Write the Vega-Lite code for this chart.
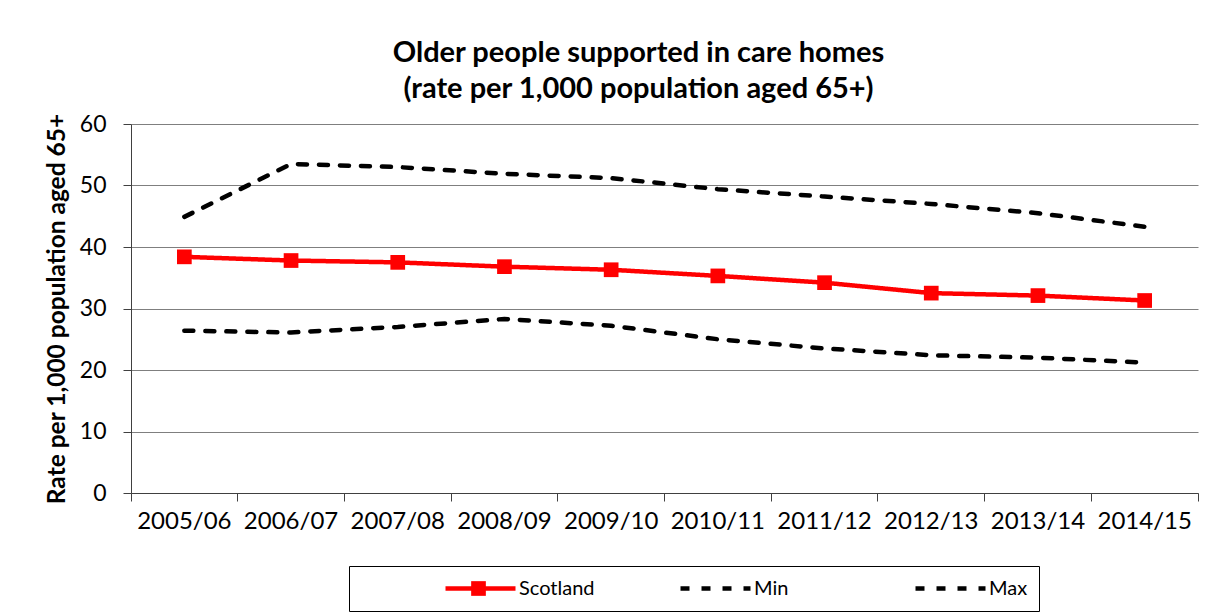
{
  "$schema": "https://vega.github.io/schema/vega-lite/v6.json",
  "width": 1067,
  "height": 369,
  "autosize": {"type": "none"},
  "padding": {"left": 131, "top": 124, "right": 31, "bottom": 121},
  "background": "white",
  "config": {"view": {"stroke": null}},
  "title": {
    "text": ["Older people supported in care homes", "(rate per 1,000 population aged 65+)"],
    "font": "Lato",
    "fontSize": 29,
    "fontWeight": "bold",
    "color": "#000000",
    "anchor": "middle",
    "dx": -26,
    "lineHeight": 36,
    "offset": 9
  },
  "data": {
    "values": [
      {"period": "2005/06", "series": "Scotland", "value": 38.4},
      {"period": "2006/07", "series": "Scotland", "value": 37.8},
      {"period": "2007/08", "series": "Scotland", "value": 37.5},
      {"period": "2008/09", "series": "Scotland", "value": 36.8},
      {"period": "2009/10", "series": "Scotland", "value": 36.3},
      {"period": "2010/11", "series": "Scotland", "value": 35.3},
      {"period": "2011/12", "series": "Scotland", "value": 34.2},
      {"period": "2012/13", "series": "Scotland", "value": 32.5},
      {"period": "2013/14", "series": "Scotland", "value": 32.1},
      {"period": "2014/15", "series": "Scotland", "value": 31.3},
      {"period": "2005/06", "series": "Min", "value": 26.4},
      {"period": "2006/07", "series": "Min", "value": 26.1},
      {"period": "2007/08", "series": "Min", "value": 27.0},
      {"period": "2008/09", "series": "Min", "value": 28.3},
      {"period": "2009/10", "series": "Min", "value": 27.2},
      {"period": "2010/11", "series": "Min", "value": 25.0},
      {"period": "2011/12", "series": "Min", "value": 23.5},
      {"period": "2012/13", "series": "Min", "value": 22.4},
      {"period": "2013/14", "series": "Min", "value": 22.0},
      {"period": "2014/15", "series": "Min", "value": 21.2},
      {"period": "2005/06", "series": "Max", "value": 44.9},
      {"period": "2006/07", "series": "Max", "value": 53.5},
      {"period": "2007/08", "series": "Max", "value": 53.0},
      {"period": "2008/09", "series": "Max", "value": 51.9},
      {"period": "2009/10", "series": "Max", "value": 51.2},
      {"period": "2010/11", "series": "Max", "value": 49.4},
      {"period": "2011/12", "series": "Max", "value": 48.2},
      {"period": "2012/13", "series": "Max", "value": 47.0},
      {"period": "2013/14", "series": "Max", "value": 45.5},
      {"period": "2014/15", "series": "Max", "value": 43.3}
    ]
  },
  "encoding": {
    "x": {
      "field": "period",
      "type": "ordinal",
      "sort": null,
      "scale": {"type": "band", "paddingInner": 0, "paddingOuter": 0},
      "axis": {
        "title": null,
        "labelAngle": 0,
        "bandPosition": 1,
        "tickExtra": true,
        "tickSize": 8,
        "grid": false,
        "labelFont": "Lato",
        "labelFontSize": 24,
        "labelColor": "#000000",
        "labelPadding": 8,
        "domainColor": "#404040",
        "tickColor": "#404040",
        "labelFlush": false,
        "labelOverlap": false
      }
    },
    "y": {
      "field": "value",
      "type": "quantitative",
      "scale": {"domain": [0, 60], "nice": false},
      "axis": {
        "values": [0, 10, 20, 30, 40, 50, 60],
        "title": "Rate per 1,000 population aged 65+",
        "titleFont": "Lato",
        "titleFontSize": 24.5,
        "titleFontWeight": "bold",
        "titleColor": "#000000",
        "titlePadding": 10,
        "labelFont": "Lato",
        "labelFontSize": 23,
        "labelColor": "#000000",
        "labelPadding": 17,
        "tickSize": 8,
        "gridColor": "#7f7f7f",
        "domainColor": "#404040",
        "tickColor": "#404040"
      }
    }
  },
  "layer": [
    {
      "mark": {"type": "line", "strokeWidth": 4.5, "strokeCap": "round"},
      "encoding": {
        "color": {
          "field": "series",
          "type": "nominal",
          "scale": {"domain": ["Scotland", "Min", "Max"], "range": ["#ff0000", "#000000", "#000000"]},
          "legend": {
            "orient": "none",
            "legendX": 218,
            "legendY": 442,
            "direction": "horizontal",
            "title": null,
            "strokeColor": "#000000",
            "padding": 11,
            "clipHeight": 23,
            "symbolType": "stroke",
            "symbolSize": 4900,
            "symbolStrokeWidth": 4.5,
            "symbolOffset": 83,
            "labelOffset": 1,
            "gridAlign": "all",
            "columnPadding": -3,
            "labelFont": "Lato",
            "labelFontSize": 20,
            "labelColor": "#000000"
          }
        },
        "strokeDash": {
          "field": "series",
          "type": "nominal",
          "scale": {"domain": ["Scotland", "Min", "Max"], "range": [[1, 0], [9, 12], [9, 12]]}
        },
        "order": {"field": "series", "sort": "descending"}
      }
    },
    {
      "transform": [{"filter": "datum.series === 'Scotland'"}],
      "mark": {"type": "point", "filled": true, "size": 216, "color": "#ff0000", "opacity": 1},
      "encoding": {
        "shape": {
          "field": "series",
          "type": "nominal",
          "scale": {"domain": ["Scotland"], "range": ["square"]},
          "legend": {
            "orient": "none",
            "legendX": 340,
            "legendY": 453,
            "direction": "horizontal",
            "title": null,
            "padding": 0,
            "clipHeight": 23,
            "symbolSize": 216,
            "symbolOffset": 0,
            "symbolStrokeWidth": 0,
            "symbolFillColor": "#ff0000",
            "symbolStrokeColor": "#ff0000",
            "symbolOpacity": 1,
            "labelExpr": "''"
          }
        }
      }
    }
  ]
}
